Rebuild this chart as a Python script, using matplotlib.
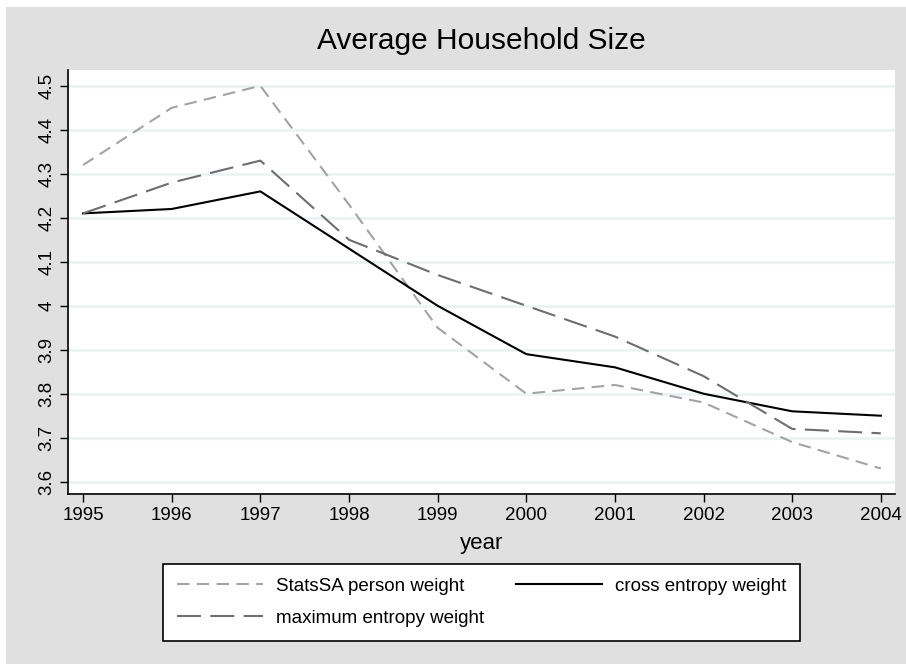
import matplotlib
matplotlib.use("Agg")
import matplotlib.pyplot as plt
from matplotlib.patches import Rectangle
from matplotlib.ticker import FormatStrFormatter

plt.rcParams['font.family'] = ['Liberation Sans', 'DejaVu Sans']

years = [1995, 1996, 1997, 1998, 1999, 2000, 2001, 2002, 2003, 2004]
statssa = [4.32, 4.45, 4.50, 4.23, 3.95, 3.80, 3.82, 3.78, 3.69, 3.63]
cross_entropy = [4.21, 4.22, 4.26, 4.13, 4.00, 3.89, 3.86, 3.80, 3.76, 3.75]
max_entropy = [4.21, 4.28, 4.33, 4.15, 4.07, 4.00, 3.93, 3.84, 3.72, 3.71]
y_ticks = [3.6, 3.7, 3.8, 3.9, 4.0, 4.1, 4.2, 4.3, 4.4, 4.5]

W, H = 906, 664
fig = plt.figure(figsize=(W / 100, H / 100), dpi=100, facecolor='white')
fig.patches.append(Rectangle((6 / W, 0), 1, (H - 7) / H, transform=fig.transFigure,
                             facecolor='#e0e0e0', edgecolor='none', zorder=-10))

ax = fig.add_axes([68 / W, (H - 494) / H, (895 - 68) / W, (494 - 70) / H])
ax.set_facecolor('white')

l1, = ax.plot(years, statssa, color='#a3a3a3', lw=1.5, dashes=(6, 3.5),
              label='StatsSA person weight')
l2, = ax.plot(years, cross_entropy, color='black', lw=1.5, label='cross entropy weight')
l3, = ax.plot(years, max_entropy, color='#6e6e6e', lw=1.5, dashes=(11.5, 4.5),
              label='maximum entropy weight')

ax.set_xlim(1994.83, 2004.16)
ax.set_ylim(3.572, 4.536)
ax.set_xticks(years)
ax.set_yticks(y_ticks)
ax.yaxis.set_major_formatter(FormatStrFormatter('%g'))
ax.grid(axis='y', color='#eaf2f3', lw=1.8)
ax.set_axisbelow(True)
for s in ['top', 'right']:
    ax.spines[s].set_visible(False)
for s in ['left', 'bottom']:
    ax.spines[s].set_linewidth(1.2)
ax.tick_params(direction='out', length=6, width=1, labelsize=13.5, colors='black', pad=3)
plt.setp(ax.get_yticklabels(), rotation=90, va='center')
ax.set_xlabel('year', fontsize=16, labelpad=7)
ax.set_title('Average Household Size', fontsize=21.5, pad=15)

leg = fig.legend([l1, l3, l2], [l1.get_label(), l3.get_label(), l2.get_label()],
                 ncol=2, loc='lower left', mode='expand',
                 bbox_to_anchor=(163 / W, (H - 641) / H, (800 - 163) / W, 75 / H),
                 fancybox=False, edgecolor='black', facecolor='white', framealpha=1,
                 fontsize=13.5, handlelength=4.6, handletextpad=0.65, borderaxespad=0,
                 labelspacing=0.8, borderpad=0.75)
leg.get_frame().set_linewidth(1.2)

fig.savefig('out.png', dpi=100)
